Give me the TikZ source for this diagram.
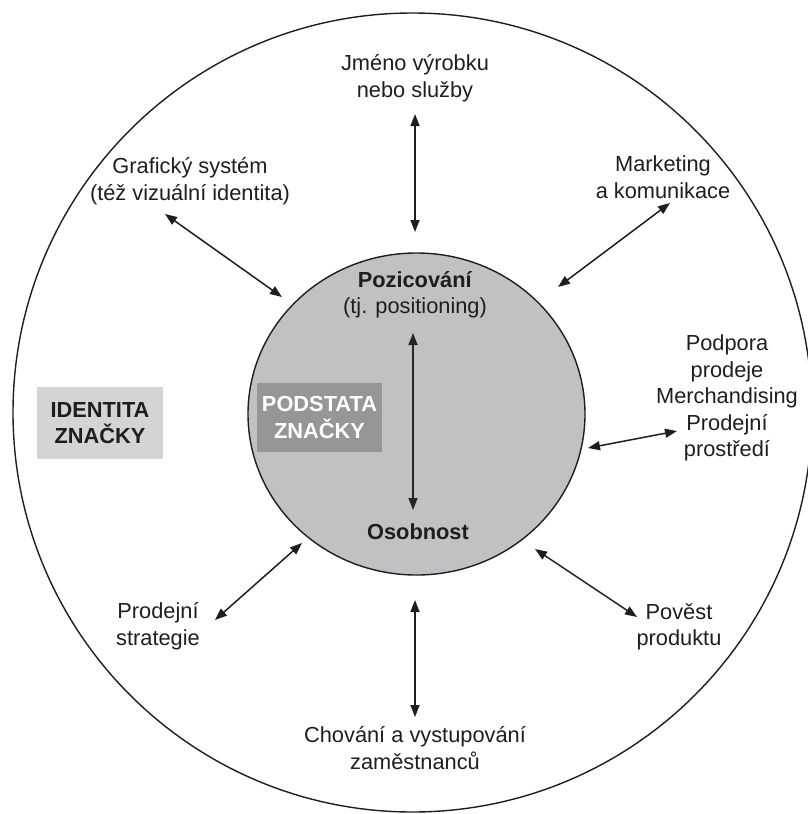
\documentclass[tikz,border=0pt]{standalone}
\usepackage{fontspec}
\setmainfont{Liberation Sans}
\usetikzlibrary{arrows.meta,shapes.geometric}
\definecolor{innerfill}{RGB}{193,193,195}
\definecolor{boxlight}{RGB}{212,212,212}
\definecolor{boxdark}{RGB}{150,150,150}
\definecolor{txt}{RGB}{30,30,30}
\begin{document}
\begin{tikzpicture}[x=1pt,y=-1pt,
  lbl/.style={align=center, font=\fontsize{21.8}{26.5}\selectfont, text=txt, inner sep=0pt},
  boldlbl/.style={lbl, font=\fontsize{21.8}{26.5}\selectfont\bfseries},
  dbl/.style={{Triangle[length=12pt,width=9pt]}-{Triangle[length=12pt,width=9pt]}, line width=1.5pt, draw=txt},
  ring/.style={draw=txt, line width=1.4pt}]
\clip (0,0) rectangle (808,814);
% circles
\node[ring, circle, minimum size=799pt, inner sep=0pt] (outer) at (412.5,412.5) {};
\node[ring, ellipse, fill=innerfill, minimum width=337pt, minimum height=322pt, inner sep=0pt] (inner) at (416.5,414) {};
% boxes
\node[boldlbl, fill=boxlight, minimum width=126pt, minimum height=72pt] (ident) at (100,423) {IDENTITA\\ZNAČKY};
\node[boldlbl, fill=boxdark, text=white, minimum width=125pt, minimum height=69pt] (podst) at (319.5,417.5) {PODSTATA\\ZNAČKY};
% inner labels
\node[lbl] (pozic) at (415,295) {\textbf{Pozicování}\\(tj. positioning)};
\node[boldlbl] (osob) at (418,532) {Osobnost};
% outer labels
\node[lbl] (jmeno) at (415,78) {Jméno výrobku\\nebo služby};
\node[lbl] (graf) at (190,181) {Grafický systém\\(též vizuální identita)};
\node[lbl] (mark) at (663,177) {Marketing\\a komunikace};
\node[lbl] (podp) at (727,398) {Podpora\\prodeje\\Merchandising\\Prodejní\\prostředí};
\node[lbl] (povest) at (679,627) {Pověst\\produktu};
\node[lbl] (chov) at (415,748) {Chování a vystupování\\zaměstnanců};
\node[lbl] (prodstr) at (158,626) {Prodejní\\strategie};
% arrow end points
\coordinate (a1s) at (415,114); \coordinate (a1e) at (415,232);
\coordinate (a2s) at (165,214); \coordinate (a2e) at (282,297);
\coordinate (a3s) at (670,203); \coordinate (a3e) at (558,287);
\coordinate (a4s) at (677,431); \coordinate (a4e) at (588,448);
\coordinate (a5s) at (637,617); \coordinate (a5e) at (535,549);
\coordinate (a6s) at (415,717); \coordinate (a6e) at (415,600);
\coordinate (a7s) at (215,620); \coordinate (a7e) at (302,543);
\coordinate (a8s) at (413,333); \coordinate (a8e) at (413,510);
% arrows
\draw[dbl] (a1s) -- (a1e);
\draw[dbl] (a2s) -- (a2e);
\draw[dbl] (a3s) -- (a3e);
\draw[dbl] (a4s) -- (a4e);
\draw[dbl] (a5s) -- (a5e);
\draw[dbl] (a6s) -- (a6e);
\draw[dbl] (a7s) -- (a7e);
\draw[dbl, draw=black!85] (a8s) -- (a8e);
\end{tikzpicture}
\end{document}
